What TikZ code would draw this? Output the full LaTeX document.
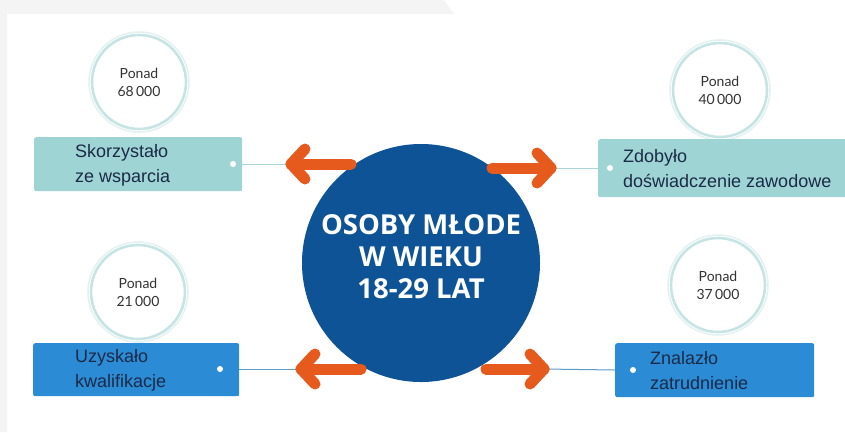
\documentclass[tikz,border=0pt]{standalone}
\usepackage{fontspec}
\setmainfont{Liberation Sans}
\newfontfamily\latofont{Lato}
\newfontfamily\headfont{Open Sans}
\definecolor{bggray}{HTML}{F4F4F4}
\definecolor{tealbox}{HTML}{9FD4D5}
\definecolor{bluebox}{HTML}{2C8BD5}
\definecolor{maincirc}{HTML}{0E5395}
\definecolor{orangec}{HTML}{E65A1E}
\definecolor{navytext}{HTML}{1B2A47}
\definecolor{ringc}{HTML}{C6E4E4}
\definecolor{ringlight}{HTML}{E3F1F1}
\definecolor{tealline}{HTML}{A9D7D8}
\definecolor{blueline}{HTML}{5B9BC8}
\definecolor{circtext}{HTML}{333333}
\begin{document}
\begin{tikzpicture}[x=1pt,y=-1pt,
  ring/.style={circle, draw=ringc, line width=2.6pt, fill=white, minimum size=94pt,
    inner sep=0pt, align=center, text=circtext,
    font=\latofont\fontsize{14}{18}\selectfont},
  ringhalo/.style={circle, draw=ringlight, line width=1.5pt, minimum size=100pt, inner sep=0pt},
  infobox/.style={rectangle, rounded corners=2pt, anchor=north west, inner sep=0pt},
  boxtext/.style={anchor=west, align=left, text=navytext, inner sep=0pt,
    font=\fontsize{18}{25}\selectfont},
  wdot/.style={circle, fill=white, minimum size=6pt, inner sep=0pt},
  orangearrow/.style={draw=orangec, line width=11pt, line cap=round, line join=round},
  conn/.style={line width=1pt}
]
\useasboundingbox (0,0) rectangle (845,432);
\fill[white] (0,0) rectangle (845,432);
\fill[bggray] (0,0) -- (444,0) -- (454,14) -- (7,14) -- (7,432) -- (0,432) -- cycle;

% small circles
\node[ringhalo] (h1) at (139,82) {};
\node[ring] (c1) at (139,82) {Ponad\\68\,000};
\node[ringhalo] (h2) at (720,90) {};
\node[ring] (c2) at (720,90) {Ponad\\40\,000};
\node[ringhalo] (h3) at (138,292) {};
\node[ring] (c3) at (138,292) {Ponad\\21\,000};
\node[ringhalo] (h4) at (718,285) {};
\node[ring] (c4) at (718,285) {Ponad\\37\,000};

% boxes
\node[infobox, fill=tealbox, minimum width=208pt, minimum height=54pt] (b1) at (34,137) {};
\node[infobox, fill=tealbox, minimum width=260pt, minimum height=58pt] (b2) at (598,139) {};
\node[infobox, fill=bluebox, minimum width=206pt, minimum height=53pt] (b3) at (33,343) {};
\node[infobox, fill=bluebox, minimum width=199pt, minimum height=54pt] (b4) at (615,343) {};

\node[boxtext] (t1) at (75,165) {Skorzystało\\ze wsparcia};
\node[boxtext] (t2) at (623,169) {Zdobyło\\doświadczenie zawodowe};
\node[boxtext] (t3) at (75,370) {Uzyskało\\kwalifikacje};
\node[boxtext] (t4) at (650,371) {Znalazło\\zatrudnienie};

\node[wdot] (d1) at (233,164) {};
\node[wdot] (d2) at (610,168) {};
\node[wdot] (d3) at (220,369) {};
\node[wdot] (d4) at (633,370) {};

% arrow tips
\coordinate (a1) at (291,164);
\coordinate (a2) at (551,168);
\coordinate (a3) at (301,369);
\coordinate (a4) at (544,369);
\coordinate (e1) at (351,164);
\coordinate (e2) at (492,168);
\coordinate (e3) at (361,369);
\coordinate (e4) at (486,369);

% connectors
\draw[conn, tealline] (b1.east |- d1) -- (a1);
\draw[conn, tealline] (a2) -- (b2.west |- d2);
\draw[conn, blueline] (b3.east |- d3) -- (a3);
\draw[conn, blueline] (a4) -- (b4.west |- d4);

% main circle
\node[circle, fill=maincirc, minimum size=238pt, inner sep=0pt] (m) at (421,263) {};
\node[text=white, align=center, font=\headfont\bfseries\fontsize{27.5}{32}\selectfont] (mt) at (421,257)
  {OSOBY MŁODE\\W WIEKU\\18-29 LAT};

% arrows
\draw[orangearrow] (e1) -- (a1);
\draw[orangearrow] ([shift={(14,-15)}]a1) -- (a1) -- ([shift={(14,15)}]a1);
\draw[orangearrow] (e2) -- (a2);
\draw[orangearrow] ([shift={(-14,-15)}]a2) -- (a2) -- ([shift={(-14,15)}]a2);
\draw[orangearrow] (e3) -- (a3);
\draw[orangearrow] ([shift={(14,-15)}]a3) -- (a3) -- ([shift={(14,15)}]a3);
\draw[orangearrow] (e4) -- (a4);
\draw[orangearrow] ([shift={(-14,-15)}]a4) -- (a4) -- ([shift={(-14,15)}]a4);
\end{tikzpicture}
\end{document}
